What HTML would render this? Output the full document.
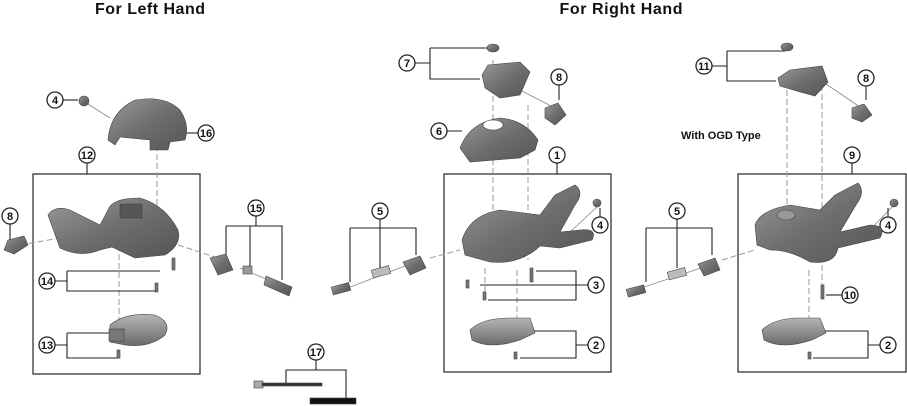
<!DOCTYPE html>
<html><head><meta charset="utf-8"><style>
html,body{margin:0;padding:0;background:#fff;}
svg{display:block;}
text{font-family:"Liberation Sans",sans-serif;font-weight:bold;fill:#111;}
</style></head><body>
<svg width="907" height="406" viewBox="0 0 907 406" xmlns="http://www.w3.org/2000/svg">
<defs>
<linearGradient id="g" x1="0" y1="0" x2="1" y2="1"><stop offset="0" stop-color="#9a9a9a"/><stop offset="0.5" stop-color="#6e6e6e"/><stop offset="1" stop-color="#555"/></linearGradient>
<linearGradient id="g2" x1="0" y1="0" x2="0" y2="1"><stop offset="0" stop-color="#b5b5b5"/><stop offset="1" stop-color="#6a6a6a"/></linearGradient>
</defs>
<text x="150" y="14" font-size="16" text-anchor="middle" textLength="110">For Left Hand</text>
<text x="621" y="14" font-size="16" text-anchor="middle" textLength="123">For Right Hand</text>
<text x="681" y="139" font-size="11">With OGD Type</text>

<g fill="none" stroke="#222" stroke-width="1.2">
<rect x="33" y="174" width="167" height="200"/>
<rect x="444" y="174" width="167" height="198"/>
<rect x="738" y="174" width="168" height="198"/>
</g>

<g stroke="#999" stroke-width="1" fill="none" stroke-dasharray="6,3">
<line x1="157" y1="145" x2="157" y2="250"/>
<line x1="119" y1="245" x2="119" y2="335"/>
<line x1="20" y1="245" x2="60" y2="238"/>
<line x1="95" y1="230" x2="135" y2="215"/>
<line x1="178" y1="245" x2="218" y2="258"/>
<line x1="493" y1="60" x2="493" y2="225"/>
<line x1="528" y1="105" x2="528" y2="260"/>
<line x1="517" y1="270" x2="517" y2="340"/>
<line x1="485" y1="268" x2="485" y2="300"/>
<line x1="430" y1="258" x2="460" y2="250"/>
<line x1="787" y1="72" x2="787" y2="215"/>
<line x1="822" y1="85" x2="822" y2="285"/>
<line x1="809" y1="270" x2="809" y2="340"/>
<line x1="722" y1="260" x2="755" y2="250"/>
</g>
<g stroke="#888" stroke-width="0.8" fill="none">
<line x1="88" y1="104" x2="110" y2="118"/>
<line x1="240" y1="268" x2="280" y2="285"/>
<line x1="340" y1="291" x2="410" y2="264"/>
<line x1="510" y1="85" x2="555" y2="108"/>
<line x1="570" y1="232" x2="598" y2="206"/>
<line x1="820" y1="80" x2="860" y2="107"/>
<line x1="862" y1="238" x2="893" y2="206"/>
<line x1="635" y1="290" x2="710" y2="265"/>
</g>

<g stroke="#222" stroke-width="1.1" fill="none">
<line x1="63" y1="100" x2="78" y2="100"/>
<line x1="185" y1="133" x2="198" y2="133"/>
<line x1="87" y1="163" x2="87" y2="174"/>
<line x1="10" y1="224" x2="10" y2="240"/>
<path d="M256 216 V226 M226 226 H282 V280 M226 226 V258 M250 226 V268"/>
<path d="M55 281 H67 M67 271 H160 M67 271 V291 H158"/>
<path d="M55 345 H67 M67 333 H113 M67 333 V358 H118"/>
<path d="M316 360 V370 M286 370 H346 V398 M286 370 V384"/>
<path d="M415 63 H430 M430 48 H490 M430 48 V79 H480"/>
<line x1="559" y1="85" x2="559" y2="100"/>
<path d="M439 131 H462"/>
<line x1="557" y1="163" x2="557" y2="174"/>
<path d="M380 219 V228 M350 228 V282 M350 228 H416 V255 M380 228 V268"/>
<line x1="600" y1="208" x2="600" y2="217"/>
<path d="M588 285 H576 M536 271 H576 V300 H488 M576 271 V285 M480 285 H576"/>
<path d="M588 345 H576 M531 331 H576 V358 H520"/>
<path d="M712 66 H727 M727 51 H785 M727 51 V81 H776"/>
<line x1="866" y1="86" x2="866" y2="100"/>
<line x1="852" y1="163" x2="852" y2="174"/>
<path d="M677 219 V228 M646 228 H712 V255 M646 228 V282 M677 228 V268"/>
<line x1="888" y1="208" x2="888" y2="217"/>
<line x1="826" y1="295" x2="842" y2="295"/>
<path d="M880 345 H868 M823 331 H868 V358 H813"/>
</g>

<g fill="#fff" stroke="#222" stroke-width="1.3">
<circle cx="55" cy="100" r="8"/><circle cx="206" cy="133" r="8"/><circle cx="87" cy="155" r="8"/>
<circle cx="10" cy="216" r="8"/><circle cx="256" cy="208" r="8"/><circle cx="47" cy="281" r="8"/>
<circle cx="47" cy="345" r="8"/><circle cx="316" cy="352" r="8"/>
<circle cx="407" cy="63" r="8"/><circle cx="559" cy="77" r="8"/><circle cx="439" cy="131" r="8"/>
<circle cx="557" cy="155" r="8"/><circle cx="380" cy="211" r="8"/><circle cx="600" cy="225" r="8"/>
<circle cx="596" cy="285" r="8"/><circle cx="596" cy="345" r="8"/>
<circle cx="704" cy="66" r="8"/><circle cx="866" cy="78" r="8"/><circle cx="852" cy="155" r="8"/>
<circle cx="677" cy="211" r="8"/><circle cx="888" cy="225" r="8"/><circle cx="850" cy="295" r="8"/>
<circle cx="888" cy="345" r="8"/>
</g>
<g font-size="11" text-anchor="middle">
<text x="55" y="104">4</text><text x="206" y="137">16</text><text x="87" y="159">12</text>
<text x="10" y="220">8</text><text x="256" y="212">15</text><text x="47" y="285">14</text>
<text x="47" y="349">13</text><text x="316" y="356">17</text>
<text x="407" y="67">7</text><text x="559" y="81">8</text><text x="439" y="135">6</text>
<text x="557" y="159">1</text><text x="380" y="215">5</text><text x="600" y="229">4</text>
<text x="596" y="289">3</text><text x="596" y="349">2</text>
<text x="704" y="70">11</text><text x="866" y="82">8</text><text x="852" y="159">9</text>
<text x="677" y="215">5</text><text x="888" y="229">4</text><text x="850" y="299">10</text>
<text x="888" y="349">2</text>
</g>

<g stroke="#444" stroke-width="0.6">
<ellipse cx="84" cy="101" rx="5" ry="5" fill="url(#g)"/>
<path d="M108 140 Q110 112 135 100 Q165 95 180 110 Q190 125 185 140 L170 142 L168 150 L150 150 L150 140 L120 137 L115 145 Z" fill="url(#g)"/>
<path d="M4 250 L8 240 L24 236 L28 245 L14 254 Z" fill="url(#g)"/>
<path d="M48 215 Q55 205 70 210 L100 225 L108 210 Q112 198 140 198 Q165 205 178 230 Q182 245 165 255 L135 258 L112 247 L100 250 Q80 258 60 248 Z" fill="url(#g)"/>
<rect x="120" y="204" width="22" height="14" fill="#555"/>
<path d="M110 325 Q125 312 155 315 Q172 322 165 335 Q150 348 125 345 L110 342 Z" fill="url(#g2)"/>
<rect x="109" y="329" width="15" height="12" fill="#777"/>
<rect x="172" y="258" width="3" height="12" fill="#777"/><rect x="155" y="283" width="3" height="9" fill="#777"/>
<rect x="117" y="350" width="3" height="8" fill="#777"/>
<path d="M210 258 L226 254 L233 270 L218 275 Z" fill="url(#g)"/>
<rect x="243" y="266" width="9" height="8" fill="#999"/>
<path d="M266 276 L292 287 L289 296 L264 285 Z" fill="url(#g)"/>
<rect x="254" y="381" width="9" height="7" fill="#aaa"/>
<rect x="262" y="383" width="60" height="3" fill="#333"/>
<rect x="310" y="398" width="46" height="6" fill="#111"/>
</g>
<g stroke="#444" stroke-width="0.6">
<ellipse cx="493" cy="48" rx="6" ry="4" fill="url(#g)"/>
<path d="M482 75 L488 65 L520 62 L530 72 L520 95 L500 98 L485 88 Z" fill="url(#g)"/>
<path d="M545 108 L558 103 L566 115 L555 125 L545 118 Z" fill="url(#g)"/>
<path d="M460 148 Q470 122 500 118 Q525 120 538 140 L535 150 L520 158 L470 162 Z" fill="url(#g)"/>
<ellipse cx="493" cy="125" rx="10" ry="5" fill="#fff"/>
<path d="M462 240 Q470 215 500 210 L540 215 L555 195 L575 185 Q585 192 575 205 L560 232 L580 230 Q598 228 592 240 L560 248 L540 246 Q520 265 490 262 L465 255 Z" fill="url(#g)"/>
<ellipse cx="597" cy="203" rx="4" ry="4" fill="url(#g)"/>
<path d="M470 330 Q482 318 510 318 L530 318 L535 333 L520 340 Q490 350 472 340 Z" fill="url(#g2)"/>
<rect x="530" y="268" width="3" height="14" fill="#777"/><rect x="466" y="280" width="3" height="8" fill="#777"/>
<rect x="483" y="292" width="3" height="8" fill="#777"/><rect x="514" y="352" width="3" height="7" fill="#777"/>
<rect x="332" y="285" width="18" height="8" fill="url(#g)" transform="rotate(-15 340 289)"/>
<rect x="372" y="268" width="18" height="8" fill="#bbb" transform="rotate(-15 380 272)"/>
<path d="M403 262 L420 256 L426 268 L410 275 Z" fill="url(#g)"/>
</g>
<g stroke="#444" stroke-width="0.6">
<ellipse cx="787" cy="47" rx="6" ry="4" fill="url(#g)"/>
<path d="M778 78 L790 70 L822 66 L828 82 L815 96 L800 92 L780 86 Z" fill="url(#g)"/>
<path d="M852 108 L864 104 L872 115 L862 122 L852 118 Z" fill="url(#g)"/>
<path d="M755 225 Q760 210 790 205 L820 210 L835 195 L858 183 Q866 192 856 205 L840 232 L870 225 Q887 225 880 238 L838 248 Q835 265 810 262 Q790 250 770 250 L757 245 Z" fill="url(#g)"/>
<ellipse cx="786" cy="215" rx="9" ry="5" fill="#999"/>
<ellipse cx="894" cy="203" rx="4" ry="4" fill="url(#g)"/>
<path d="M762 330 Q774 318 800 318 L820 318 L826 333 L812 340 Q782 350 764 340 Z" fill="url(#g2)"/>
<rect x="821" y="285" width="3" height="14" fill="#777"/><rect x="808" y="352" width="3" height="7" fill="#777"/>
<rect x="627" y="287" width="18" height="8" fill="url(#g)" transform="rotate(-15 636 291)"/>
<rect x="668" y="270" width="18" height="8" fill="#bbb" transform="rotate(-15 676 274)"/>
<path d="M698 264 L715 258 L720 270 L704 276 Z" fill="url(#g)"/>
</g>
</svg>
</body></html>
